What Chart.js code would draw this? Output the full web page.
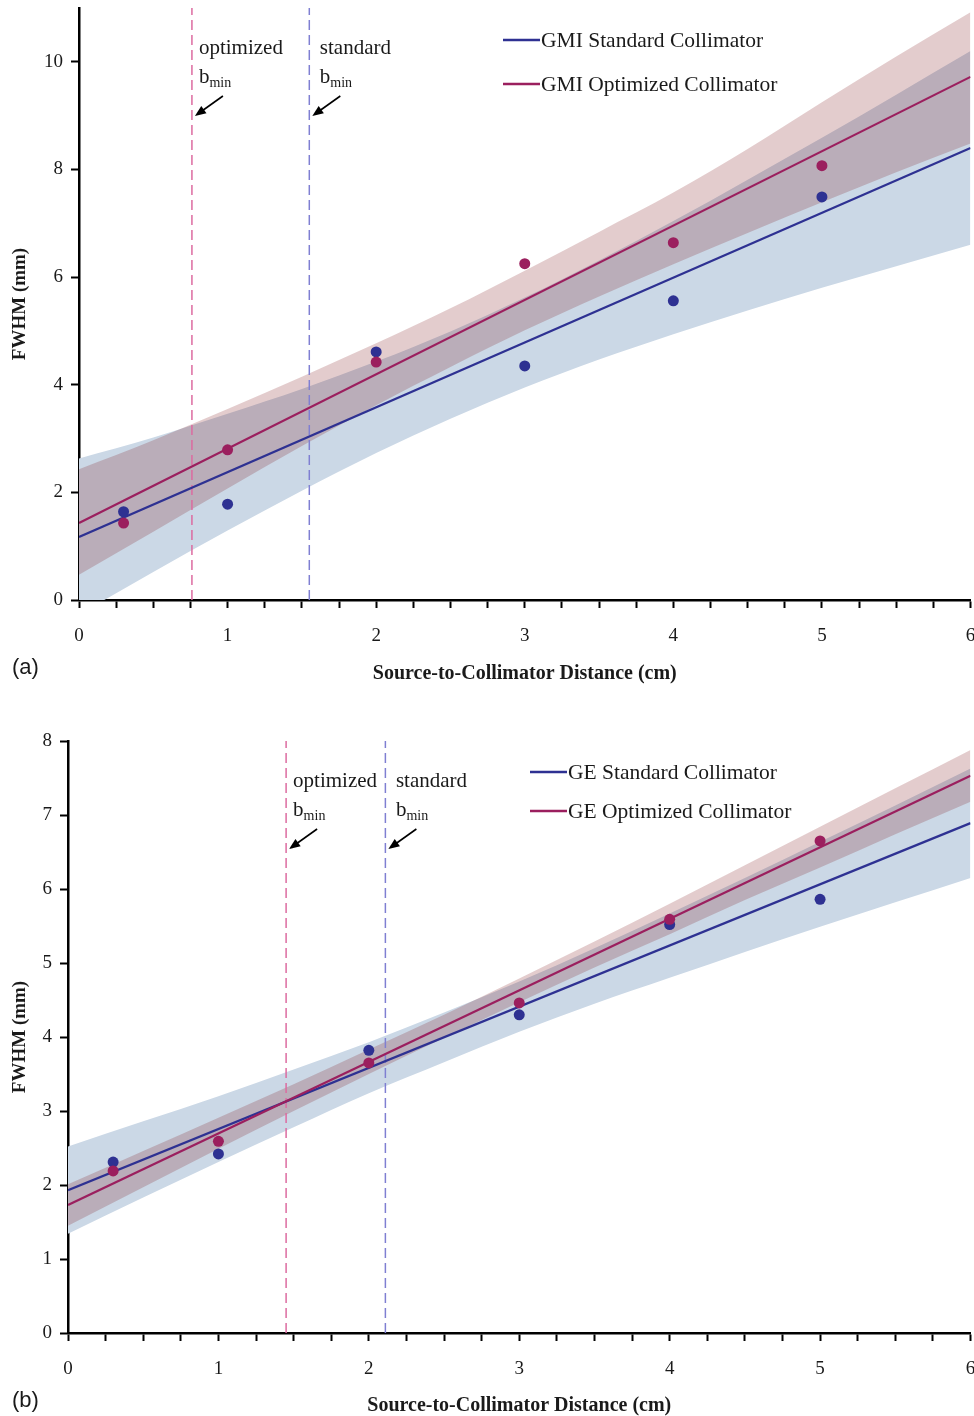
<!DOCTYPE html>
<html>
<head>
<meta charset="utf-8">
<script src="https://cdn.jsdelivr.net/npm/chart.js@4.4.1/dist/chart.umd.min.js"></script>
<style>
  html, body { margin: 0; padding: 0; background: #fff; }
  #wrap { position: relative; width: 974px; height: 1416px; overflow: hidden; }
  canvas { position: absolute; left: 0; }
  #chartA { top: 0; }
  #chartB { top: 688px; }
</style>
</head>
<body>
<div id="wrap">
  <canvas id="chartA" width="976" height="688"></canvas>
  <canvas id="chartB" width="976" height="728"></canvas>
</div>
<script>
// DATOS
const pointX = [0.3, 1, 2, 3, 4, 5];
const fitX = [0, 6];
const bandX = [0, 0.5, 1, 1.5, 2, 2.5, 3, 3.5, 4, 4.5, 5, 5.5, 6];

// (a) GMI
const gmiStdPts = [1.64, 1.78, 4.61, 4.35, 5.56, 7.49];
const gmiOptPts = [1.43, 2.79, 4.42, 6.25, 6.64, 8.07];
const gmiStdFit = [1.17, 8.40];
const gmiOptFit = [1.43, 9.72];
const gmiStdLow = [-0.27, 0.52, 1.29, 2.03, 2.73, 3.37, 3.95, 4.47, 4.94, 5.38, 5.80, 6.20, 6.60];
const gmiStdHigh = [2.63, 3.02, 3.46, 3.92, 4.43, 4.99, 5.62, 6.31, 7.04, 7.81, 8.59, 9.39, 10.20];
const gmiOptLow = [0.47, 1.27, 2.07, 2.86, 3.62, 4.33, 5.01, 5.64, 6.24, 6.82, 7.39, 7.95, 8.48];
const gmiOptHigh = [2.43, 2.97, 3.55, 4.15, 4.77, 5.42, 6.12, 6.84, 7.57, 8.38, 9.25, 10.10, 10.92];
const gmiBmin = [1.55, 0.76]; // standard, optimized
const gmiLegend = ["GMI Standard Collimator", "GMI Optimized Collimator"];

// (b) GE
const geStdPts = [2.31, 2.42, 3.82, 4.30, 5.52, 5.86];
const geOptPts = [2.19, 2.59, 3.65, 4.46, 5.59, 6.65];
const geStdFit = [1.93, 6.89];
const geOptFit = [1.73, 7.53];
const geStdLow = [1.34, 1.83, 2.31, 2.78, 3.24, 3.66, 4.07, 4.45, 4.80, 5.15, 5.49, 5.82, 6.15];
const geStdHigh = [2.52, 2.86, 3.20, 3.56, 3.93, 4.33, 4.75, 5.20, 5.67, 6.15, 6.64, 7.13, 7.63];
const geOptLow = [1.45, 1.97, 2.49, 3.00, 3.50, 3.99, 4.47, 4.94, 5.39, 5.85, 6.29, 6.74, 7.18];
const geOptHigh = [2.01, 2.46, 2.91, 3.36, 3.83, 4.30, 4.79, 5.29, 5.80, 6.32, 6.84, 7.36, 7.88];
const geBmin = [2.11, 1.45]; // standard, optimized
const geLegend = ["GE Standard Collimator", "GE Optimized Collimator"];

const BLUE = "#2e3192";
const RED = "#9b1f5e";
const BLUE_BAND = "rgb(203,216,230)";
const RED_BAND = "rgba(125,15,20,0.21)";
const SERIF = "'Liberation Serif', 'Times New Roman', serif";
const INK = "#1a1a1a";

Chart.defaults.font.family = SERIF;
Chart.defaults.color = INK;

const xy = (xs, ys) => xs.map((x, i) => ({ x: x, y: ys[i] }));

// ============ PLUGIN: textos b_min, leyenda y etiqueta (a)/(b)
const notes = {
  id: "notes",
  afterDatasetsDraw(chart, args, opts) {
    const ctx = chart.ctx;
    const sx = chart.scales.x;
    const area = chart.chartArea;
    const top = area.top;
    ctx.save();
    ctx.fillStyle = INK;
    ctx.strokeStyle = "#000";
    ctx.textBaseline = "alphabetic";
    ctx.textAlign = "left";
    opts.marks.forEach((m) => {
      const lx = sx.getPixelForValue(m.value);
      ctx.font = "21px " + SERIF;
      ctx.fillText(m.word, lx + m.dx, top + 46);
      ctx.fillText("b", lx + m.dx, top + 75);
      const bw = ctx.measureText("b").width;
      ctx.font = "14px " + SERIF;
      ctx.fillText("min", lx + m.dx + bw, top + 79);
      // flecha
      const x1 = lx + 31, y1 = top + 88, x2 = lx + 3, y2 = top + 108;
      const ang = Math.atan2(y2 - y1, x2 - x1);
      ctx.lineWidth = 1.6;
      ctx.beginPath();
      ctx.moveTo(x1, y1);
      ctx.lineTo(x2 - 6 * Math.cos(ang), y2 - 6 * Math.sin(ang));
      ctx.stroke();
      ctx.fillStyle = "#000";
      ctx.beginPath();
      ctx.moveTo(x2, y2);
      ctx.lineTo(x2 - 11 * Math.cos(ang) + 4.5 * Math.sin(ang), y2 - 11 * Math.sin(ang) - 4.5 * Math.cos(ang));
      ctx.lineTo(x2 - 11 * Math.cos(ang) - 4.5 * Math.sin(ang), y2 - 11 * Math.sin(ang) + 4.5 * Math.cos(ang));
      ctx.closePath();
      ctx.fill();
      ctx.fillStyle = INK;
    });
    // leyenda
    opts.legend.forEach((txt, i) => {
      const lx = area.left + opts.legendX;
      const ly = top + opts.legendY + i * opts.legendGap;
      ctx.strokeStyle = i === 0 ? BLUE : RED;
      ctx.lineWidth = 2.5;
      ctx.beginPath();
      ctx.moveTo(lx, ly);
      ctx.lineTo(lx + 37, ly);
      ctx.stroke();
      ctx.fillStyle = INK;
      ctx.font = "21.5px " + SERIF;
      ctx.textBaseline = "middle";
      ctx.fillText(txt, lx + 38, ly + 1);
    });
    // etiqueta del panel
    ctx.font = "22px 'Liberation Sans', Arial, sans-serif";
    ctx.textBaseline = "middle";
    ctx.fillText(opts.tag, 12, opts.tagY);
    ctx.restore();
  },
};

function makeChart(id, d) {
  const datasets = [
    { data: xy(bandX, d.stdLow), borderWidth: 0, pointRadius: 0, fill: false, cubicInterpolationMode: "monotone", order: 12 },
    { data: xy(bandX, d.stdHigh), borderWidth: 0, pointRadius: 0, fill: "-1", backgroundColor: BLUE_BAND, cubicInterpolationMode: "monotone", order: 11 },
    { data: xy(bandX, d.optLow), borderWidth: 0, pointRadius: 0, fill: false, cubicInterpolationMode: "monotone", order: 10 },
    { data: xy(bandX, d.optHigh), borderWidth: 0, pointRadius: 0, fill: "-1", backgroundColor: RED_BAND, cubicInterpolationMode: "monotone", order: 9 },
    { data: [{ x: d.bmin[0], y: 0 }, { x: d.bmin[0], y: d.yMax }], borderColor: "#7f7fd2", borderWidth: 1.5, borderDash: [10, 5], pointRadius: 0, fill: false, order: 7 },
    { data: [{ x: d.bmin[1], y: 0 }, { x: d.bmin[1], y: d.yMax }], borderColor: "#dc6ba0", borderWidth: 1.5, borderDash: [10, 5], pointRadius: 0, fill: false, order: 7 },
    { data: xy(fitX, d.stdFit), borderColor: BLUE, borderWidth: 2.2, pointRadius: 0, fill: false, order: 5 },
    { data: xy(fitX, d.optFit), borderColor: RED, borderWidth: 2.2, pointRadius: 0, fill: false, order: 4 },
    { data: xy(pointX, d.stdPts), showLine: false, pointRadius: 5.5, pointBorderWidth: 0, pointBackgroundColor: BLUE, order: 2 },
    { data: xy(pointX, d.optPts), showLine: false, pointRadius: 5.5, pointBorderWidth: 0, pointBackgroundColor: RED, order: 1 },
  ];

  return new Chart(document.getElementById(id), {
    type: "line",
    data: { datasets: datasets },
    plugins: [notes],
    options: {
      responsive: false,
      animation: false,
      events: [],
      layout: { padding: { top: d.padTop, right: 0, left: 0, bottom: 0 } },
      plugins: {
        legend: { display: false },
        tooltip: { enabled: false },
        notes: {
          marks: [
            { value: d.bmin[1], word: "optimized", dx: 7 },
            { value: d.bmin[0], word: "standard", dx: 10.5 },
          ],
          legend: d.legend,
          legendX: d.legendX,
          legendY: d.legendY,
          legendGap: d.legendGap,
          tag: d.tag,
          tagY: d.tagY,
        },
      },
      scales: {
        x: {
          type: "linear",
          min: 0,
          max: 6,
          ticks: {
            stepSize: 0.25,
            autoSkip: false,
            maxRotation: 0,
            padding: 17,
            color: INK,
            font: { size: 19 },
            callback: (v) => (Number.isInteger(v) ? v : ""),
          },
          grid: { drawOnChartArea: false, tickLength: 8, tickColor: "#000", tickWidth: 2 },
          border: { color: "#000", width: 2.5 },
          title: {
            display: true,
            text: "Source-to-Collimator Distance (cm)",
            color: INK,
            font: { size: 20, weight: "bold" },
            padding: { top: 4, bottom: d.titlePadBottom },
          },
          afterFit: (s) => {
            s.height = d.xHeight;
            s.paddingLeft = 0;
            s.paddingRight = 0;
          },
        },
        y: {
          min: 0,
          max: d.yMax,
          ticks: { stepSize: d.yStep, padding: 8, color: INK, font: { size: 19 } },
          afterBuildTicks: (s) => {
            s.ticks = s.ticks.filter((t) => Math.abs(t.value / d.yStep - Math.round(t.value / d.yStep)) < 1e-6);
          },
          grid: { drawOnChartArea: false, tickLength: 8, tickColor: "#000", tickWidth: 2 },
          border: { color: "#000", width: 2.5 },
          title: {
            display: true,
            text: "FWHM (mm)",
            color: INK,
            font: { size: 19, weight: "bold" },
            padding: { top: 9, bottom: 4 },
          },
          afterFit: (s) => {
            s.width = d.yWidth;
            s.paddingTop = 0;
            s.paddingBottom = 0;
          },
        },
      },
    },
  });
}

// ================ PANEL (a)
makeChart("chartA", {
  stdPts: gmiStdPts, optPts: gmiOptPts, stdFit: gmiStdFit, optFit: gmiOptFit,
  stdLow: gmiStdLow, stdHigh: gmiStdHigh, optLow: gmiOptLow, optHigh: gmiOptHigh,
  bmin: gmiBmin, legend: gmiLegend,
  yMax: 11, yStep: 2, padTop: 8, xHeight: 88, yWidth: 79, titlePadBottom: 2,
  legendX: 424, legendY: 32, legendGap: 44, tag: "(a)", tagY: 668,
});

// ================ PANEL (b)
makeChart("chartB", {
  stdPts: geStdPts, optPts: geOptPts, stdFit: geStdFit, optFit: geOptFit,
  stdLow: geStdLow, stdHigh: geStdHigh, optLow: geOptLow, optHigh: geOptHigh,
  bmin: geBmin, legend: geLegend,
  yMax: 8, yStep: 1, padTop: 53, xHeight: 83, yWidth: 68, titlePadBottom: -2,
  legendX: 462, legendY: 31, legendGap: 39, tag: "(b)", tagY: 713,
});
</script>
</body>
</html>
